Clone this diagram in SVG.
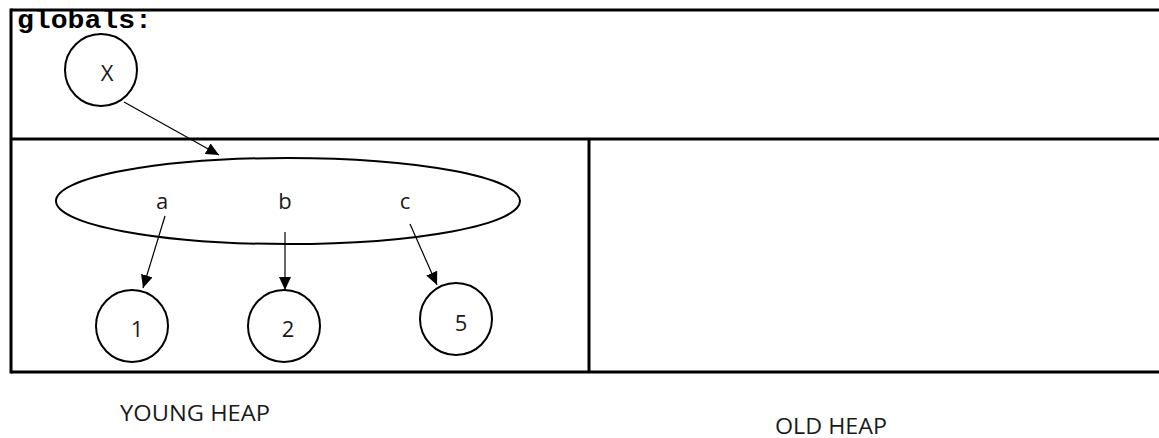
<svg xmlns="http://www.w3.org/2000/svg" width="1159" height="438" viewBox="0 0 1159 438">
<style>
.frame{stroke:#000;stroke-width:3;fill:none}
.node{stroke:#000;stroke-width:2;fill:#fff}
.conn{stroke:#000;stroke-width:1.2;fill:none;marker-end:url(#ah)}
.lbl{font-family:"Open Sans","Liberation Sans",sans-serif;font-size:22px;fill:#1a1a1a;text-anchor:middle}
.cap{font-family:"Open Sans","Liberation Sans",sans-serif;font-size:22px;fill:#1a1a1a}
</style>
<defs>
<marker id="ah" markerUnits="userSpaceOnUse" markerWidth="14" markerHeight="12" refX="13" refY="6" orient="auto">
<path d="M0,0 L13,6 L0,12 Z" fill="#000"/>
</marker>
</defs>
<rect width="1159" height="438" fill="#fff"/>
<g id="frame">
<line class="frame" x1="11" y1="10" x2="1159" y2="10"/>
<line class="frame" x1="11" y1="8.5" x2="11" y2="373.5"/>
<line class="frame" x1="11" y1="139" x2="1159" y2="139"/>
<line class="frame" x1="11" y1="372" x2="1159" y2="372"/>
<line class="frame" x1="589" y1="139" x2="589" y2="372"/>
</g>
<text x="17" y="28" font-family="Liberation Mono, monospace" font-weight="bold" font-size="25" textLength="135" lengthAdjust="spacingAndGlyphs">globals:</text>
<g id="connectors">
<line class="conn" x1="124" y1="102" x2="219" y2="155"/>
<line class="conn" x1="165" y1="216" x2="143" y2="288"/>
<line class="conn" x1="285" y1="232" x2="285" y2="290"/>
<line class="conn" x1="410" y1="224" x2="437" y2="285"/>
</g>
<g id="nodeX">
<circle class="node" cx="101" cy="70" r="36"/>
<text class="lbl" x="107" y="81">X</text>
</g>
<g id="object">
<ellipse cx="288" cy="201" rx="232" ry="43" fill="none" stroke="#000" stroke-width="2"/>
<text class="lbl" x="162" y="209">a</text>
<text class="lbl" x="285" y="209">b</text>
<text class="lbl" x="405" y="209">c</text>
</g>
<g id="node1">
<circle class="node" cx="132" cy="326" r="36"/>
<text class="lbl" x="137" y="337">1</text>
</g>
<g id="node2">
<circle class="node" cx="284" cy="326" r="36"/>
<text class="lbl" x="288" y="337">2</text>
</g>
<g id="node5">
<circle class="node" cx="456" cy="319" r="36"/>
<text class="lbl" x="461" y="331">5</text>
</g>
<text class="cap" x="120" y="421" textLength="150" lengthAdjust="spacingAndGlyphs">YOUNG HEAP</text>
<text class="cap" x="775" y="434" textLength="112" lengthAdjust="spacingAndGlyphs">OLD HEAP</text>
</svg>
